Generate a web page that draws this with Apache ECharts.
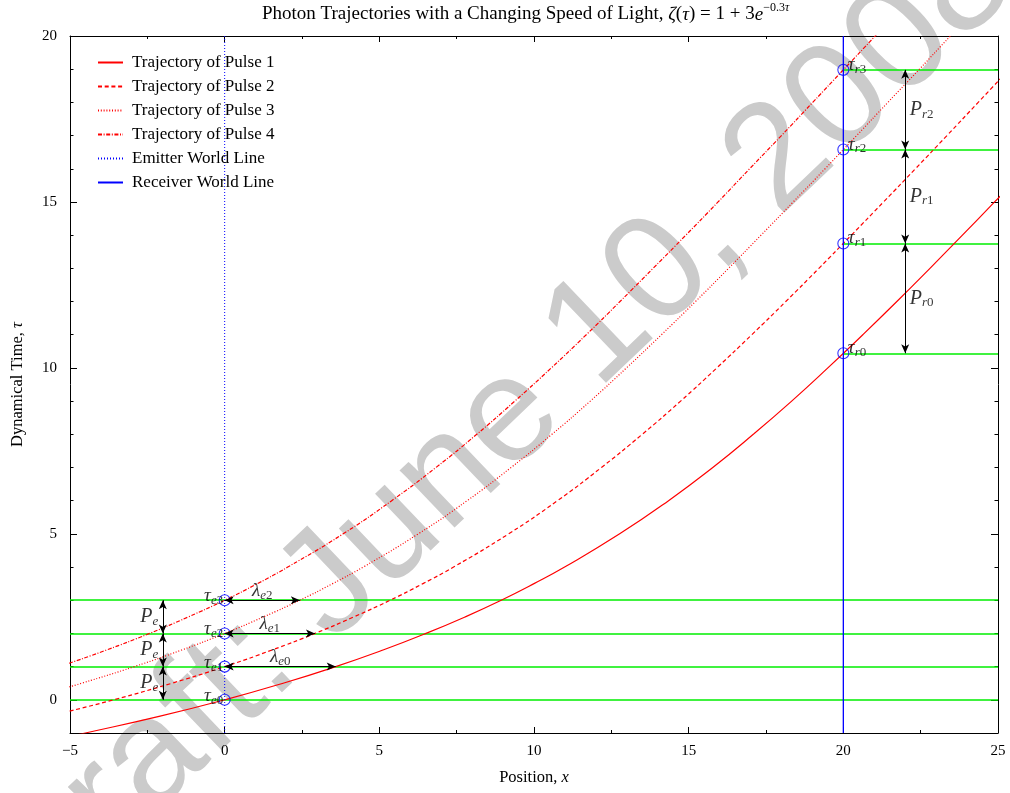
<!DOCTYPE html>
<html>
<head>
<meta charset="utf-8">
<script src="https://cdn.jsdelivr.net/npm/echarts@6.0.0/dist/echarts.min.js"></script>
<style>
  html, body { margin: 0; padding: 0; background: #fff; }
  #chart { width: 1010px; height: 793px; }
</style>
</head>
<body>
<div id="chart"></div>
<script>
// Photon paths [x, tau] for four pulses sent from the emitter at x = 0
const pulse1 = [[-5.01,-1.1],[-4.50,-1],[-2.12,-0.5],[0,0],[1.89,0.5],[3.59,1],[5.12,1.5],[6.51,2],[7.78,2.5],[8.94,3],[10.00,3.5],[10.99,4],[12.77,5],[14.35,6],[15.78,7],[17.09,8],[18.33,9],[19.50,10],[20.63,11],[21.73,12],[22.80,13],[23.85,14],[24.89,15],[25.40,15.5]];
const pulse2 = [[-5.01,-0.34],[-3.59,0],[-1.70,0.5],[0,1],[1.53,1.5],[2.92,2],[4.18,2.5],[5.35,3],[6.41,3.5],[7.40,4],[9.18,5],[10.76,6],[12.18,7],[13.50,8],[14.74,9],[15.91,10],[17.04,11],[18.14,12],[19.21,13],[20.26,14],[21.30,15],[22.33,16],[23.35,17],[24.36,18],[25.37,19]];
const pulse3 = [[-5.02,0.39],[-4.62,0.5],[-2.92,1],[-1.39,1.5],[0,2],[1.26,2.5],[2.43,3],[3.49,3.5],[4.48,4],[6.26,5],[7.84,6],[9.26,7],[10.58,8],[11.82,9],[12.99,10],[14.12,11],[15.22,12],[16.29,13],[17.34,14],[18.38,15],[19.41,16],[20.43,17],[21.44,18],[22.46,19],[23.46,20],[23.97,20.5]];
const pulse4 = [[-5.03,1.1],[-3.82,1.5],[-2.43,2],[-1.17,2.5],[0,3],[1.06,3.5],[2.04,4],[3.83,5],[5.40,6],[6.83,7],[8.15,8],[9.38,9],[10.56,10],[11.69,11],[12.78,12],[13.85,13],[14.91,14],[15.95,15],[16.97,16],[18.00,17],[19.01,18],[20.02,19],[21.03,20],[21.53,20.5]];

// World lines and event times
const emitterX = 0;
const receiverX = 20;
const emitTimes = [0, 1, 2, 3];
const receiveTimes = [10.44, 13.75, 16.58, 18.98];
// where pulse k sits when pulse k+1 leaves the emitter
const wavelengthEnds = [3.59, 2.92, 2.43];
// period arrows drawn beside each world line
const emitterPeriodX = -2;
const receiverPeriodX = 22;

// Axis ranges and labelled ticks
const xRange = [-5, 25];
const yRange = [-1, 20];
const yMajorTicks = [0, 5, 10, 15, 20];

const seriesNames = ['Trajectory of Pulse 1', 'Trajectory of Pulse 2', 'Trajectory of Pulse 3', 'Trajectory of Pulse 4', 'Emitter World Line', 'Receiver World Line'];

const FONT = 'Liberation Serif';
const RED = '#ff0000';
const BLUE = '#0000ff';
const GREEN = '#00ee00';

const rich = {
  m:  { fontFamily: FONT, fontStyle: 'italic', fontSize: 19, lineHeight: 22, color: '#000' },
  P:  { fontFamily: FONT, fontStyle: 'italic', fontSize: 20, lineHeight: 22, color: '#000' },
  si: { fontFamily: FONT, fontStyle: 'italic', fontSize: 13, lineHeight: 12, verticalAlign: 'bottom', color: '#000' },
  sn: { fontFamily: FONT, fontSize: 13, lineHeight: 12, verticalAlign: 'bottom', color: '#000' }
};

function xAxisDef(position, withLabels) {
  return {
    type: 'value', position, min: xRange[0], max: xRange[1], interval: 5,
    axisLine: { show: true, onZero: false, lineStyle: { color: '#000', width: 1 } },
    axisTick: { show: true, inside: true, length: 6, lineStyle: { color: '#000', width: 1 } },
    minorTick: { show: true, splitNumber: 2, length: 3, lineStyle: { color: '#000', width: 1 } },
    splitLine: { show: false }, minorSplitLine: { show: false },
    axisLabel: {
      show: withLabels, margin: 11, color: '#000', fontFamily: FONT, fontSize: 15,
      formatter: v => String(v).replace('-', '\u2212')
    },
    name: withLabels ? 'Position, {i|x}' : '', nameLocation: 'middle', nameGap: 36,
    nameTextStyle: {
      fontFamily: FONT, fontSize: 16.5, color: '#000',
      rich: { i: { fontFamily: FONT, fontStyle: 'italic', fontSize: 16.5, color: '#000' } }
    }
  };
}

function yMinorAxis(position, withName) {
  return {
    type: 'value', position, min: yRange[0], max: yRange[1], interval: 1,
    axisLine: { show: true, onZero: false, lineStyle: { color: '#000', width: 1 } },
    axisTick: { show: true, inside: true, length: 3.5, lineStyle: { color: '#000', width: 1 } },
    axisLabel: { show: false }, splitLine: { show: false },
    name: withName ? 'Dynamical Time, {i|\u03c4}' : '', nameLocation: 'middle', nameGap: 44,
    nameTextStyle: {
      fontFamily: FONT, fontSize: 16.5, color: '#000',
      rich: { i: { fontFamily: FONT, fontStyle: 'italic', fontSize: 16.5, color: '#000' } }
    }
  };
}

function yMajorAxis(position, withLabels) {
  return {
    type: 'value', position, min: yRange[0], max: yRange[1],
    axisLine: { show: false, onZero: false },
    axisTick: { show: true, inside: true, length: 7, customValues: yMajorTicks, lineStyle: { color: '#000', width: 1 } },
    axisLabel: { show: withLabels, customValues: yMajorTicks, margin: 13, color: '#000', fontFamily: FONT, fontSize: 15 },
    splitLine: { show: false }
  };
}

function curve(name, data, type) {
  return {
    name, type: 'line', data, symbol: 'none', smooth: true, clip: true, silent: true, z: 3,
    lineStyle: { color: RED, width: 1.2, type }, itemStyle: { color: RED }
  };
}

function labelSeries(items, position, distance, offset) {
  return {
    type: 'scatter', symbol: 'circle', symbolSize: 1, silent: true, z: 6,
    itemStyle: { color: 'rgba(0,0,0,0)' },
    data: items.map(it => ({ name: it.text, value: it.at })),
    label: { show: true, position, distance, offset, color: '#000', rich, formatter: p => p.name }
  };
}

const arrowStyle = {
  type: 'lines', coordinateSystem: 'cartesian2d', silent: true, z: 5,
  symbol: ['arrow', 'arrow'], symbolSize: [[6, 9], [6, 9]], symbolOffset: [[0, 4.5], [0, 4.5]],
  lineStyle: { color: '#000', width: 1, opacity: 1 }
};

const emitterPeriods = emitTimes.slice(0, -1).map((t, i) => [t, emitTimes[i + 1]]);
const receiverPeriods = receiveTimes.slice(0, -1).map((t, i) => [t, receiveTimes[i + 1]]);

const option = {
  animation: false,
  backgroundColor: '#fff',
  title: {
    text: 'Photon Trajectories with a Changing Speed of Light, {i|\u03b6}({i|\u03c4}) = 1 + 3{i|e}{sup|\u22120.3}{supi|\u03c4}',
    left: 262, top: 2, padding: 0,
    textStyle: {
      fontFamily: FONT, fontSize: 19, fontWeight: 'normal', color: '#000', lineHeight: 25,
      rich: {
        i: { fontFamily: FONT, fontStyle: 'italic', fontSize: 19, lineHeight: 25, color: '#000' },
        sup: { fontFamily: FONT, fontSize: 12, lineHeight: 12, verticalAlign: 'top', color: '#000' },
        supi: { fontFamily: FONT, fontStyle: 'italic', fontSize: 12, lineHeight: 12, verticalAlign: 'top', color: '#000' }
      }
    }
  },
  legend: {
    data: seriesNames, orient: 'vertical', left: 97, top: 54, padding: 0,
    itemWidth: 25, itemHeight: 14, itemGap: 7, selectedMode: false,
    itemStyle: { color: 'rgba(0,0,0,0)', borderWidth: 0, opacity: 0 },
    textStyle: { fontFamily: FONT, fontSize: 17, color: '#000', padding: [0, 0, 0, 4] }
  },
  grid: { left: 70, right: 12, top: 36, bottom: 60, containLabel: false },
  xAxis: [xAxisDef('bottom', true), xAxisDef('top', false)],
  yAxis: [yMinorAxis('left', true), yMajorAxis('left', true), yMinorAxis('right', false), yMajorAxis('right', false)],
  graphic: [{
    type: 'text', x: 500, y: 427, rotation: 0.762, z: -10, silent: true,
    style: {
      text: 'Draft: June 10, 2008', fontSize: 150, fontFamily: 'Liberation Sans',
      fill: '#cbcbcb', align: 'center', verticalAlign: 'middle', textAlign: 'center', textVerticalAlign: 'middle'
    }
  }],
  series: [
    // constant-time guides at emission and reception
    {
      type: 'lines', coordinateSystem: 'cartesian2d', silent: true, z: 2,
      lineStyle: { color: GREEN, width: 1.5, opacity: 1 },
      data: emitTimes.map(t => ({ coords: [[xRange[0], t], [xRange[1], t]] }))
        .concat(receiveTimes.map(t => ({ coords: [[receiverX, t], [xRange[1], t]] })))
    },
    curve(seriesNames[0], pulse1, 'solid'),
    curve(seriesNames[1], pulse2, [4, 2.7]),
    curve(seriesNames[2], pulse3, [1, 1.8]),
    curve(seriesNames[3], pulse4, [4, 1.6, 1, 1.6]),
    {
      name: seriesNames[4], type: 'line', symbol: 'none', silent: true, z: 3,
      data: [[emitterX, yRange[0]], [emitterX, yRange[1]]],
      lineStyle: { color: BLUE, width: 1, type: [1, 2] }, itemStyle: { color: BLUE }
    },
    {
      name: seriesNames[5], type: 'line', symbol: 'none', silent: true, z: 3,
      data: [[receiverX, yRange[0]], [receiverX, yRange[1]]],
      lineStyle: { color: BLUE, width: 1.3 }, itemStyle: { color: BLUE }
    },
    // period and wavelength arrows
    Object.assign({}, arrowStyle, {
      data: emitterPeriods.map(p => ({ coords: [[emitterPeriodX, p[0]], [emitterPeriodX, p[1]]] }))
        .concat(receiverPeriods.map(p => ({ coords: [[receiverPeriodX, p[0]], [receiverPeriodX, p[1]]] })))
        .concat(wavelengthEnds.map((x, i) => ({ coords: [[emitterX, emitTimes[i + 1]], [x, emitTimes[i + 1]]] })))
    }),
    // emission and reception events
    {
      type: 'scatter', symbol: 'circle', symbolSize: 11, silent: true, z: 4,
      itemStyle: { color: 'rgba(0,0,0,0)', borderColor: BLUE, borderWidth: 1.1 },
      data: emitTimes.map(t => [emitterX, t]).concat(receiveTimes.map(t => [receiverX, t]))
    },
    labelSeries(emitTimes.map((t, i) => ({ at: [emitterX, t], text: '{m|\u03c4}{si|e}{sn|' + i + '}' })), 'left', 1, [0, -4]),
    labelSeries(receiveTimes.map((t, i) => ({ at: [receiverX, t], text: '{m|\u03c4}{si|r}{sn|' + i + '}' })), 'right', 4, [0, -5]),
    labelSeries(wavelengthEnds.map((x, i) => ({ at: [x / 2, emitTimes[i + 1]], text: '{m|\u03bb}{si|e}{sn|' + i + '}' })), 'top', 0, [0, 2]),
    labelSeries(emitterPeriods.map(p => ({ at: [emitterPeriodX, (p[0] + p[1]) / 2], text: '{P|P}{si|e}' })), 'left', 4, [0, 0]),
    labelSeries(receiverPeriods.map((p, i) => ({ at: [receiverPeriodX, (p[0] + p[1]) / 2], text: '{P|P}{si|r}{sn|' + i + '}' })), 'right', 4, [0, 0])
  ]
};

const chart = echarts.init(document.getElementById('chart'), null, { renderer: 'canvas' });
chart.setOption(option);
</script>
</body>
</html>
